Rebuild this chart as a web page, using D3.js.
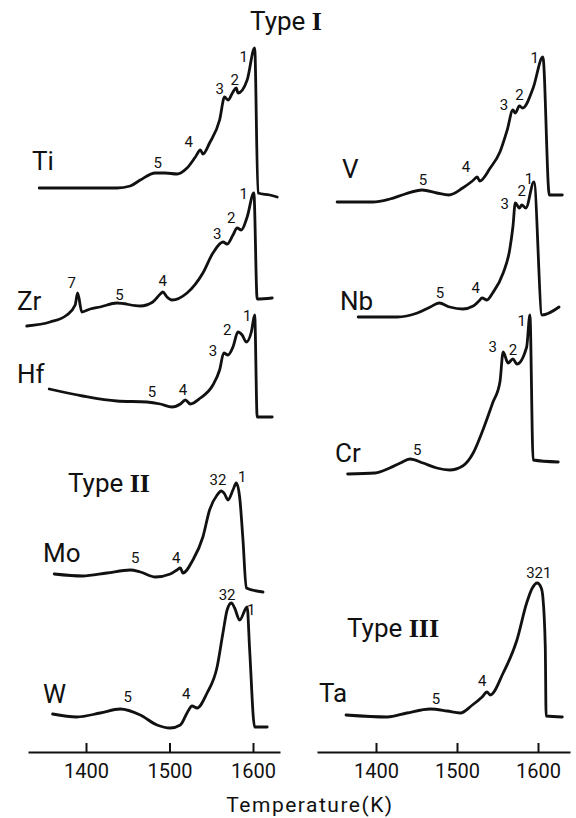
<!DOCTYPE html>
<html>
<head>
<meta charset="utf-8">
<script src="https://cdn.jsdelivr.net/npm/d3@7"></script>
<style>
  body { margin: 0; background: #fff; }
  text { font-family: Roboto, "DejaVu Sans", sans-serif; fill: #111; }
</style>
</head>
<body>
<script>
// canvas
const width = 576;
const height = 818;

// ---- data: temperature (K) and signal (arb. units) ----
const tTi = [1344,1393,1437,1453,1465,1483,1495,1509,1521,1531,1537,1540,1548,1560,1566,1570,1576,1580,1582,1593,1602,1606,1620,1629];
const iTi = [9,9,9,11,17,24,24,23,29,40,47,43,54,77,100,97,105,109,104,117,149,4,2,0];
const pTi = [["5",1486,29],["4",1523,50],["3",1560,103],["2",1578,112],["1",1589,135]];

const tZr = [1329,1357,1377,1387,1390,1395,1405,1417,1437,1465,1480,1489,1492,1497,1503,1521,1540,1552,1564,1569,1576,1581,1586,1593,1601,1605,1623];
const iZr = [-28,-24,-17,-7,5,-14,-11,-9,-5,-8,-4,4,6,1,-2,5,25,45,56,54,63,70,68,81,105,-1,0];
const pZr = [["7",1383,10],["5",1440,-2],["4",1492,12],["3",1557,59],["2",1574,75],["1",1589,99]];

const tHf = [1356,1396,1437,1473,1489,1503,1513,1519,1525,1537,1552,1560,1565,1570,1576,1582,1587,1592,1598,1602,1605,1623];
const iHf = [28,21,16,15,13,10,13,17,13,19,32,47,64,62,70,85,82,75,85,102,0,0];
const pHf = [["5",1479,20],["4",1516,22],["3",1552,61],["2",1569,82],["1",1593,96]];

const tV = [1352,1396,1417,1436,1457,1475,1490,1507,1519,1525,1528,1541,1553,1562,1569,1572,1577,1581,1594,1606,1614,1630];
const iV = [-7,-7,-4,1,5,2,0,7,14,18,14,27,43,65,85,82,89,87,107,138,0,0];
const pV = [["5",1458,10],["4",1511,23],["3",1558,85],["2",1577,95],["1",1596,132]];

const tNb = [1378,1426,1451,1467,1478,1491,1507,1520,1527,1531,1537,1544,1557,1565,1569,1572,1577,1580,1585,1595,1605,1626];
const iNb = [-2,-2,2,8,12,8,6,9,14,17,15,22,42,65,88,112,107,110,107,133,0,8];
const pNb = [["5",1479,17],["4",1523,22],["3",1559,106],["2",1580,119],["1",1589,131]];

const tCr = [1365,1399,1417,1430,1442,1458,1475,1491,1507,1520,1532,1544,1553,1557,1563,1569,1574,1586,1590,1594,1625];
const iCr = [-12,-11,-6,-1,3,-1,-6,-8,-4,9,32,59,80,110,99,103,98,115,147,2,0];
const pCr = [["5",1451,7],["3",1544,110],["2",1569,107],["1",1580,136]];

const tMo = [1362,1396,1425,1453,1465,1483,1501,1509,1513,1516,1528,1540,1548,1557,1562,1566,1570,1576,1580,1584,1588,1592,1612];
const iMo = [14,12,15,18,16,11,14,18,20,15,28,51,78,93,97,94,88,98,105,91,48,0,-4];
const pMo = [["5",1459,25],["4",1508,25],["32",1558,103],["1",1587,106]];

const tW = [1360,1389,1417,1441,1465,1485,1501,1513,1521,1527,1533,1545,1557,1564,1569,1574,1578,1584,1593,1596,1602,1617];
const iW = [13,10,14,18,12,2,-1,2,14,21,19,34,60,94,117,124,119,107,120,77,0,0];
const pW = [["5",1450,25],["4",1520,28],["32",1569,127],["1",1598,112]];

const tTa = [1363,1414,1438,1467,1488,1504,1519,1531,1537,1541,1557,1574,1586,1593,1599,1604,1606,1609,1610,1630];
const iTa = [2,0,4,8,6,4,12,20,25,22,44,77,114,129,134,129,120,70,1,0];
const pTa = [["5",1474,13],["4",1531,31],["321",1601,139]];

const ticks = [1400, 1500, 1600];

// ---- layout ----
const panels = {
  left:  { x: d3.scaleLinear().domain([1400, 1600]).range([86, 253]),  axis: [28, 280] },
  right: { x: d3.scaleLinear().domain([1400, 1600]).range([376, 538]), axis: [317, 570] }
};
const axisY = 752;

const curves = [
  { name: "Ti", T: tTi, I: iTi, peaks: pTi, panel: "left",  base: 197, lx: 32,  ly: 170 },
  { name: "Zr", T: tZr, I: iZr, peaks: pZr, panel: "left",  base: 298, lx: 17,  ly: 310 },
  { name: "Hf", T: tHf, I: iHf, peaks: pHf, panel: "left",  base: 417, lx: 17,  ly: 383 },
  { name: "Mo", T: tMo, I: iMo, peaks: pMo, panel: "left",  base: 588, lx: 43,  ly: 562 },
  { name: "W",  T: tW,  I: iW,  peaks: pW,  panel: "left",  base: 727, lx: 43,  ly: 703 },
  { name: "V",  T: tV,  I: iV,  peaks: pV,  panel: "right", base: 195, lx: 342, ly: 178 },
  { name: "Nb", T: tNb, I: iNb, peaks: pNb, panel: "right", base: 315, lx: 340, ly: 310 },
  { name: "Cr", T: tCr, I: iCr, peaks: pCr, panel: "right", base: 462, lx: 335, ly: 462 },
  { name: "Ta", T: tTa, I: iTa, peaks: pTa, panel: "right", base: 717, lx: 319, ly: 702 }
];

const svg = d3.select("body")
  .append("svg")
  .attr("width", width)
  .attr("height", height);

// traces
curves.forEach(c => {
  const x = panels[c.panel].x;
  const y = d3.scaleLinear().domain([0, 100]).range([c.base, c.base - 100]);
  const pts = c.T.map((t, i) => [t, c.I[i]]);

  const line = d3.line()
    .x(d => x(d[0]))
    .y(d => y(d[1]))
    .curve(d3.curveMonotoneX);

  svg.append("path")
    .datum(pts)
    .attr("d", line)
    .attr("fill", "none")
    .attr("stroke", "#111")
    .attr("stroke-width", 2.8)
    .attr("stroke-linejoin", "round")
    .attr("stroke-linecap", "round");

  // peak numbers
  svg.selectAll(null)
    .data(c.peaks)
    .enter()
    .append("text")
    .attr("x", d => x(d[1]))
    .attr("y", d => y(d[2]))
    .attr("text-anchor", "middle")
    .style("font-size", "15px")
    .text(d => d[0]);

  // element name
  svg.append("text")
    .attr("x", c.lx)
    .attr("y", c.ly)
    .style("font-size", "26px")
    .text(c.name);
});

// type headings (roman numerals in a serif face)
function heading(x, y, numeral, anchor) {
  const t = svg.append("text")
    .attr("x", x)
    .attr("y", y)
    .attr("text-anchor", anchor)
    .style("font-size", "26px");
  t.append("tspan").text("Type ");
  t.append("tspan").style("font-family", "'Liberation Serif', serif").style("font-weight", "bold").text(numeral);
}
heading(286, 30, "I", "middle");
heading(68, 492, "II", "start");
heading(347, 637, "III", "start");

// axes
Object.values(panels).forEach(p => {
  const [a, b] = p.axis;
  const ax = p.x.copy().domain([p.x.invert(a), p.x.invert(b)]).range([a, b]);
  const g = svg.append("g")
    .attr("transform", "translate(0," + axisY + ")")
    .call(d3.axisBottom(ax).tickValues(ticks).tickFormat(d3.format("d"))
      .tickSizeInner(-9).tickSizeOuter(0).tickPadding(12));
  g.select(".domain").attr("stroke", "#111").attr("stroke-width", 2);
  g.selectAll(".tick line").attr("stroke", "#111").attr("stroke-width", 2);
  g.selectAll(".tick text")
    .style("font-size", "20px")
    .style("font-family", "Roboto, sans-serif")
    .attr("fill", "#111");
});

svg.append("text")
  .attr("x", 310)
  .attr("y", 812)
  .attr("text-anchor", "middle")
  .style("font-size", "21px")
  .style("letter-spacing", "1.5px")
  .text("Temperature(K)");
</script>
</body>
</html>
